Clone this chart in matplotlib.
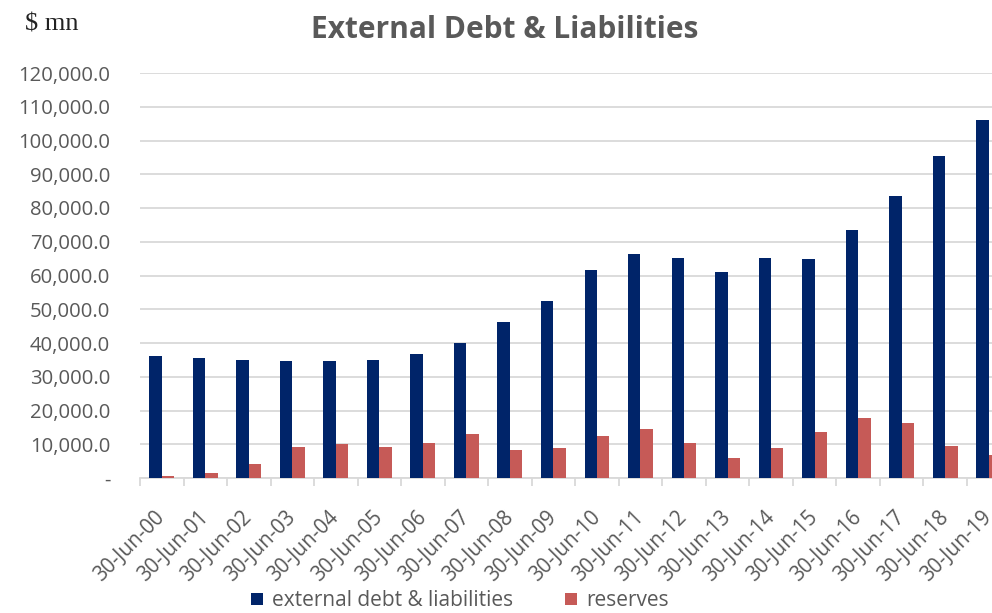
import matplotlib
matplotlib.use("Agg")
import matplotlib.pyplot as plt
from matplotlib.ticker import FuncFormatter
import numpy as np

categories = ["30-Jun-00", "30-Jun-01", "30-Jun-02", "30-Jun-03", "30-Jun-04",
              "30-Jun-05", "30-Jun-06", "30-Jun-07", "30-Jun-08", "30-Jun-09",
              "30-Jun-10", "30-Jun-11", "30-Jun-12", "30-Jun-13", "30-Jun-14",
              "30-Jun-15", "30-Jun-16", "30-Jun-17", "30-Jun-18", "30-Jun-19"]
external_debt = [36200, 35700, 35100, 34700, 34700, 35100, 36800, 40000, 46200, 52500,
                 61500, 66400, 65200, 60900, 65300, 65000, 73600, 83500, 95300, 106100]
reserves = [500, 1500, 4100, 9300, 10200, 9300, 10300, 12900, 8200, 8800,
            12400, 14400, 10300, 5800, 8900, 13600, 17700, 16300, 9400, 6800]
yticks = list(range(0, 120001, 10000))

plt.rcParams["font.family"] = ["Open Sans", "DejaVu Sans"]

W, H = 992, 613
fig = plt.figure(figsize=(W / 100, H / 100), dpi=100)
fig.patch.set_facecolor("white")
left, cw = 140, 43.52
top, bottom = 73, 478
ax = fig.add_axes([left / W, 1 - bottom / H, cw * 20 / W, (bottom - top) / H])

x = np.arange(len(categories))
bw = 0.286
gray = "#595959"
ax.bar(x - bw / 2, external_debt, bw, color="#002469", label="external debt & liabilities", zorder=3)
ax.bar(x + bw / 2, reserves, bw, color="#C65A57", label="reserves", zorder=3)

ax.set_xlim(-0.5, len(categories) - 0.5)
ax.set_ylim(0, 120000)
ax.set_yticks(yticks)
ax.yaxis.set_major_formatter(FuncFormatter(lambda v, p: "-" if v == 0 else f"{v:,.1f}"))
ax.grid(axis="y", color="#D9D9D9", linewidth=1.3, zorder=0)
for s in ["top", "right", "left"]:
    ax.spines[s].set_visible(False)
ax.spines["bottom"].set_color("#D9D9D9")
ax.spines["bottom"].set_linewidth(1.3)
ax.tick_params(axis="y", length=0, pad=21.5, labelsize=14.6, labelcolor=gray)
ax.set_xticks(x)
ax.set_xticklabels(categories, rotation=45, ha="right", va="center", rotation_mode="anchor",
                   fontsize=14.8, color=gray)
ax.tick_params(axis="x", length=0, pad=26)
ax.set_xticks(np.arange(-0.5, len(categories), 1), minor=True)
ax.tick_params(axis="x", which="minor", length=6, color="#D9D9D9", width=1.3)

fig.text(505 / W, 1 - 30 / H, "External Debt & Liabilities", ha="center", va="center",
         fontsize=21.5, fontweight="bold", color=gray)
fig.text(25 / W, 1 - 25 / H, "$ mn", ha="left", va="center", fontsize=19,
         family="Liberation Serif", color="#222222")

leg = fig.legend(loc="center", bbox_to_anchor=(460 / W, 1 - 601 / H), ncol=2, frameon=False,
                 fontsize=15, handlelength=0.55, handleheight=0.55, columnspacing=2.5,
                 handletextpad=0.45, borderpad=0.1)
for t in leg.get_texts():
    t.set_color(gray)

fig.savefig("out.png", dpi=100)
